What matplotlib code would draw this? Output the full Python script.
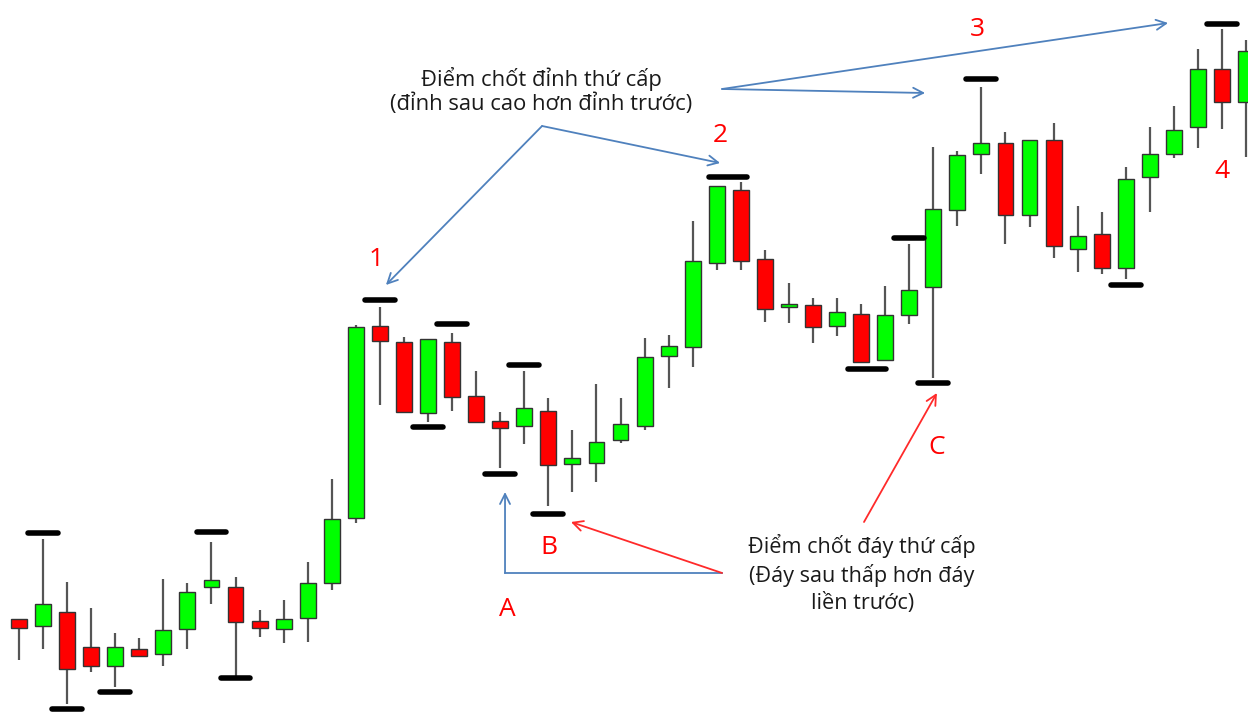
import matplotlib
matplotlib.use("Agg")
import matplotlib.pyplot as plt
import numpy as np

# ---------------- data (price units) ----------------
opens  = [94, 87, 101, 66, 47, 64, 59, 84, 126, 126, 92, 84, 95, 130, 195, 387, 371, 300, 371, 317,
          292, 287, 302, 249, 250, 273, 287, 357, 366, 450, 523, 454, 406, 408, 387, 399, 353, 398, 426, 503,
          559, 570, 498, 573, 464, 479, 445, 536, 559, 586, 644, 611]
highs  = [94, 174, 131, 105, 80, 75, 134, 130, 171, 136, 103, 113, 151, 234, 388, 406, 376, 374, 380, 342,
          301, 342, 315, 283, 329, 315, 375, 378, 492, 527, 531, 463, 430, 415, 415, 409, 427, 469, 566, 562,
          626, 581, 573, 590, 507, 501, 546, 586, 607, 664, 684, 673]
lows   = [53, 64, 9, 41, 26, 56, 47, 64, 109, 37, 76, 70, 71, 123, 190, 308, 301, 291, 302, 290,
          245, 269, 207, 221, 231, 270, 283, 325, 346, 443, 443, 391, 390, 370, 377, 351, 353, 389, 335, 487,
          539, 469, 486, 455, 441, 439, 434, 501, 555, 565, 584, 556]
closes = [85, 109, 44, 47, 66, 57, 83, 121, 133, 91, 85, 94, 130, 194, 386, 372, 301, 374, 316, 291,
          285, 305, 248, 255, 271, 289, 356, 367, 452, 527, 452, 404, 409, 386, 401, 351, 398, 423, 504, 558,
          570, 498, 573, 467, 477, 445, 534, 559, 583, 644, 611, 662]

# swing-point markers: candle position (1-based) and level
pivot_pos    = [2, 3, 5, 9, 10, 16, 18, 19, 21, 22, 23, 30.47, 36.24, 38, 39, 41, 47, 51]
pivot_level  = [180, 4, 21, 181, 35, 413, 286, 389, 239, 348, 199, 536, 344, 475, 330, 634, 428, 689]
pivot_wide   = [False]*11 + [True, True] + [False]*5

top_text = "Điểm chốt đỉnh thứ cấp\n(đỉnh sau cao hơn đỉnh trước)"
bottom_text = "Điểm chốt đáy thứ cấp\n(Đáy sau thấp hơn đáy\nliền trước)"
point_labels = ["1", "2", "3", "4", "A", "B", "C"]
point_label_pos = [(15.84, 454), (30.14, 577), (40.82, 684), (51.0, 542),
                   (21.28, 104), (23.03, 165), (39.15, 266)]

FONT = ["Open Sans", "DejaVu Sans"]
GREEN = "#00FF00"
RED = "#FF0000"
BLUE = "#4F81BD"
ARROW_RED = "#FF2A2A"

fig = plt.figure(figsize=(12.48, 7.13), dpi=100)
ax = fig.add_axes([0, 0, 1, 1])
ax.set_xlim(0.21, 52.08)
ax.set_ylim(0, 713)
ax.axis("off")

x = np.arange(1, len(opens) + 1)
o = np.array(opens); c = np.array(closes); h = np.array(highs); l = np.array(lows)

# wicks
ax.vlines(x, l, h, color="#555555", linewidth=1.6, zorder=1)
# bodies
colors = [GREEN if cc >= oo else RED for oo, cc in zip(o, c)]
bottoms = np.minimum(o, c)
heights = np.maximum(np.abs(c - o), 3)
ax.bar(x, heights, bottom=bottoms, width=0.66, color=colors, edgecolor="#333333",
       linewidth=1.0, zorder=2)

# pivot markers
for p, lev, wide in zip(pivot_pos, pivot_level, pivot_wide):
    half = 0.8 if wide else 0.62
    ax.plot([p - half, p + half], [lev, lev], color="black", linewidth=4.0,
            solid_capstyle="round", zorder=3)

# texts
ax.text(22.72, 622, top_text, ha="center", va="center", fontsize=15.8, color="#1a1a1a",
        family=FONT, linespacing=1.2)
ax.text(36.04, 139, bottom_text, ha="center", va="center", fontsize=15.6, color="#1a1a1a",
        family=FONT, linespacing=1.36)
for lab, (lx, ly) in zip(point_labels, point_label_pos):
    ax.text(lx, ly, lab, ha="center", va="center", fontsize=19, color=RED, family=FONT)

# arrows
def arrow(start, end, color):
    ax.annotate("", xy=end, xytext=start,
                arrowprops=dict(arrowstyle="->", color=color, lw=1.3,
                                mutation_scale=18, shrinkA=0, shrinkB=0))

arrow((22.74, 587), (16.25, 428), BLUE)
arrow((22.74, 587), (30.14, 550), BLUE)
arrow((30.22, 624), (38.66, 620), BLUE)
arrow((30.22, 624), (48.76, 690), BLUE)
ax.plot([30.22, 21.2], [140, 140], color=BLUE, lw=1.3)
arrow((21.2, 140), (21.2, 221), BLUE)
arrow((30.22, 140), (23.94, 191), ARROW_RED)
arrow((36.12, 191), (39.15, 320), ARROW_RED)

fig.savefig("out.png", dpi=100, facecolor="white")
